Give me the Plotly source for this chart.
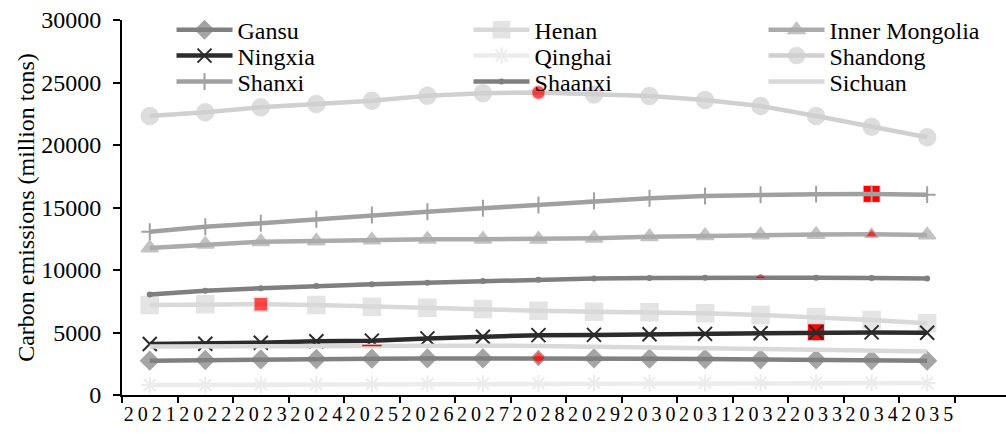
import plotly.graph_objects as go

YEARS = [2021, 2022, 2023, 2024, 2025, 2026, 2027, 2028, 2029, 2030, 2031, 2032, 2033, 2034, 2035]

GANSU = [2744, 2800, 2850, 2880, 2905, 2930, 2935, 2960, 2935, 2905, 2880, 2855, 2850, 2800, 2745]
HENAN = [7200, 7255, 7270, 7200, 7065, 6985, 6880, 6745, 6665, 6615, 6535, 6400, 6215, 6000, 5735]
INNER_MONGOLIA = [11760, 12055, 12265, 12320, 12400, 12455, 12460, 12460, 12535, 12665, 12745, 12800, 12840, 12860, 12800]
NINGXIA = [4080, 4100, 4180, 4300, 4350, 4530, 4660, 4790, 4810, 4860, 4890, 4940, 5020, 5010, 4980]
QINGHAI = [800, 810, 830, 850, 870, 890, 910, 930, 950, 960, 970, 980, 990, 980, 960]
SHANDONG = [22320, 22620, 23020, 23280, 23540, 23940, 24150, 24200, 24050, 23920, 23600, 23120, 22320, 21460, 20620]
SHANXI = [13060, 13460, 13740, 14060, 14400, 14660, 14940, 15200, 15540, 15740, 15920, 16020, 16070, 16090, 16030]
SHAANXI = [8050, 8340, 8540, 8720, 8860, 8980, 9120, 9220, 9330, 9360, 9385, 9415, 9390, 9360, 9330]
SICHUAN = [3880, 3900, 3920, 3940, 3960, 3950, 3940, 3920, 3880, 3820, 3750, 3690, 3620, 3550, 3480]

NAMES = ["Gansu", "Henan", "Inner Mongolia", "Ningxia", "Qinghai",
         "Shandong", "Shanxi", "Shaanxi", "Sichuan"]
VALUES = [GANSU, HENAN, INNER_MONGOLIA, NINGXIA, QINGHAI,
          SHANDONG, SHANXI, SHAANXI, SICHUAN]
PEAK_YEARS = [2028, 2023, 2034, 2033, 2032, 2028, 2034, 2032, 2025]

Y_TITLE = "Carbon emissions (million tons)"

FONT = "Liberation Serif, Times New Roman, serif"
RED = "#ff0000"

STYLES = {
    "Gansu": dict(color="#808080", symbol="diamond", size=14, mode="fill"),
    "Henan": dict(color="#d9d9d9", symbol="square", size=17, mode="fill"),
    "Inner Mongolia": dict(color="#ababab", symbol="triangle-up", size=15, mode="fill"),
    "Ningxia": dict(color="#2b2b2b", symbol="x-thin", size=14, mode="thin"),
    "Qinghai": dict(color="#ececec", symbol="asterisk-open", size=14, mode="thin"),
    "Shandong": dict(color="#d0d0d0", symbol="circle", size=17, mode="fill"),
    "Shanxi": dict(color="#a0a0a0", symbol="cross-thin", size=12, mode="thin"),
    "Shaanxi": dict(color="#7f7f7f", symbol="circle", size=6, mode="none"),
    "Sichuan": dict(color="#d9d9d9", symbol="circle", size=0.1, mode="none"),
}

# legend grid (3 columns x 3 rows), in paper fractions
LEGEND_COLS = [0.056, 0.392, 0.7257]
LEGEND_ROWS = [0.973, 0.904, 0.835]

x_labels = ["\u2009".join(str(y)) for y in YEARS]

fig = go.Figure()
legend_layout = {}

for i, (name, vals, peak) in enumerate(zip(NAMES, VALUES, PEAK_YEARS)):
    st = STYLES[name]
    legend_id = "legend" if i == 0 else f"legend{i + 1}"
    legend_layout[legend_id] = dict(
        x=LEGEND_COLS[i % 3], y=LEGEND_ROWS[i // 3],
        xanchor="left", yanchor="middle", orientation="v", itemwidth=56,
        font=dict(family=FONT, size=24, color="#000000"),
        bgcolor="rgba(0,0,0,0)", borderwidth=0,
    )
    pidx = YEARS.index(peak)
    if st["mode"] == "thin" and name != "Qinghai":
        fig.add_trace(go.Scatter(
            x=[x_labels[pidx]], y=[vals[pidx]], mode="markers",
            marker=dict(symbol="square", size=17, color=RED,
                        line=dict(color="#e0e0e0", width=1)),
            showlegend=False, hoverinfo="skip"))
    if st["mode"] == "fill":
        colors = [RED if k == pidx else st["color"] for k in range(len(YEARS))]
        sizes = [st["size"] - (3 if k == pidx else 0) for k in range(len(YEARS))]
        marker = dict(symbol=st["symbol"], size=sizes, color=colors,
                      line=dict(color=st["color"], width=1.5))
    elif st["mode"] == "thin":
        marker = dict(symbol=st["symbol"], size=st["size"], color=st["color"],
                      line=dict(color=st["color"], width=2))
    else:
        marker = dict(symbol="circle", size=st["size"], color=st["color"])
    fig.add_trace(go.Scatter(
        x=x_labels, y=vals, name=name, mode="lines+markers",
        line=dict(color=st["color"], width=4.5),
        marker=marker, legend=legend_id))
    if st["mode"] == "none":
        fig.add_trace(go.Scatter(
            x=[x_labels[pidx]], y=[vals[pidx]], mode="markers",
            marker=dict(symbol="line-ew", size=6 if name == "Shaanxi" else 14,
                        color=RED, line=dict(color=RED, width=1.5)),
            showlegend=False, hoverinfo="skip"))

fig.update_layout(
    width=1006, height=434,
    margin=dict(l=122, r=0, t=20, b=39),
    paper_bgcolor="white", plot_bgcolor="white",
    font=dict(family=FONT, color="#000000"),
    xaxis=dict(
        type="category", range=[-0.5, 15.42], tickson="boundaries",
        showline=True, linecolor="#000000", linewidth=2,
        ticks="outside", ticklen=6, tickwidth=2, tickcolor="#000000",
        tickangle=0, showgrid=False, zeroline=False,
        tickfont=dict(family=FONT, size=20, color="#000000"),
    ),
    yaxis=dict(
        range=[0, 30000], dtick=5000, tickformat="d",
        showline=True, linecolor="#000000",
        linewidth=2, ticks="outside", ticklen=7, tickwidth=2,
        tickcolor="#000000", showgrid=False, zeroline=False,
        ticklabelstandoff=7,
        tickfont=dict(family=FONT, size=24, color="#000000"),
        title=dict(text=Y_TITLE, font=dict(family=FONT, size=24, color="#000000"),
                   standoff=0),
    ),
    showlegend=True,
    **legend_layout,
)

fig.write_html("out.html")
